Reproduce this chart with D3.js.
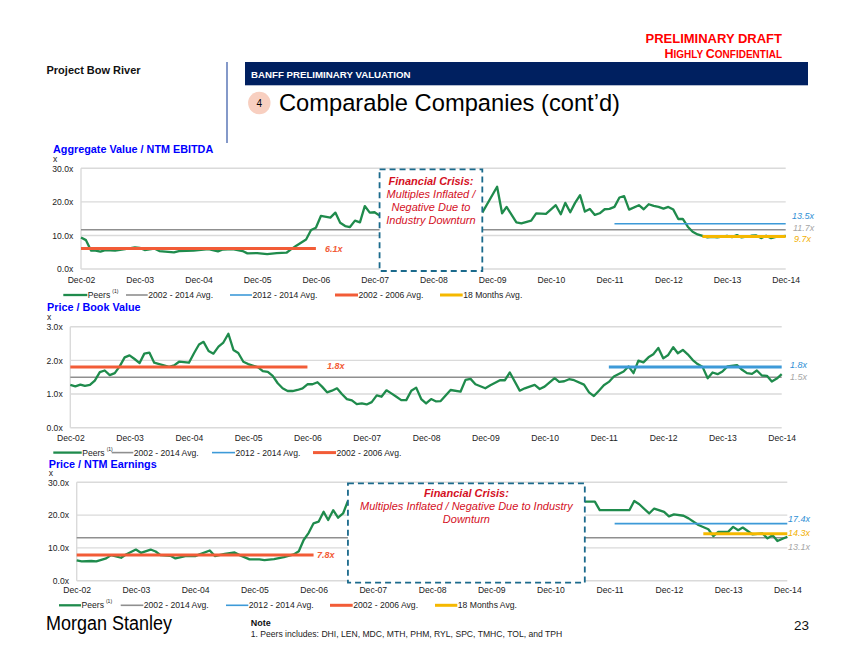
<!DOCTYPE html>
<html><head><meta charset="utf-8">
<script src="https://cdn.jsdelivr.net/npm/d3@7"></script>
<style>
body{margin:0;background:#fff;}
svg{display:block;}
</style></head>
<body><svg id="c" width="854" height="660"></svg>
<script>
// ---------------- DATA ----------------
const tickMonths = ["2002-12","2003-12","2004-12","2005-12","2006-12","2007-12","2008-12","2009-12","2010-12","2011-12","2012-12","2013-12","2014-12"];
const tickLabels = ["Dec-02","Dec-03","Dec-04","Dec-05","Dec-06","Dec-07","Dec-08","Dec-09","Dec-10","Dec-11","Dec-12","Dec-13","Dec-14"];
const yTicksMultiple = [0, 10, 20, 30];
const yTicksBook = [0, 1, 2, 3];

const avgNames  = ["2002 - 2014 Avg.", "2012 - 2014 Avg.", "2002 - 2006 Avg.", "18 Months Avg."];
const avgStarts = ["2002-12", "2012-01", "2002-12", "2013-07"];
const avgEnds   = ["2014-12", "2014-12", "2006-12", "2014-12"];

// Aggregate Value / NTM EBITDA
const evDatesA = ["2002-12","2003-01","2003-02","2003-03","2003-04","2003-05","2003-07","2003-09","2003-11","2003-12","2004-01","2004-03","2004-04","2004-07","2004-08","2004-11","2004-12","2005-02","2005-04","2005-05","2005-07","2005-09","2005-10","2005-12","2006-02","2006-04","2006-06","2006-07","2006-08","2006-10","2006-11","2006-12","2007-01","2007-03","2007-04","2007-05","2007-06","2007-07","2007-08","2007-09","2007-10","2007-11","2007-12","2008-01"];
const evValuesA = [9.4,8.6,5.5,5.5,5.2,5.65,5.5,5.95,6.45,6.3,5.65,6.1,5.35,4.95,5.35,5.5,5.65,5.9,5.25,5.8,5.9,5.35,4.65,4.75,4.45,4.75,4.85,5.9,6.95,8.8,11.6,12.3,15.8,15.3,16.8,13.8,12.8,12.5,14.4,13.9,18.75,16.8,16.9,15.9];
const evDatesB = ["2009-10","2010-01","2010-02","2010-03","2010-05","2010-06","2010-08","2010-09","2010-11","2011-01","2011-02","2011-03","2011-04","2011-05","2011-06","2011-07","2011-08","2011-09","2011-10","2011-11","2011-12","2012-01","2012-02","2012-03","2012-04","2012-06","2012-07","2012-08","2012-09","2012-10","2012-11","2012-12","2013-01","2013-02","2013-03","2013-04","2013-05","2013-06","2013-08","2013-09","2013-10","2013-12","2014-01","2014-02","2014-03","2014-05","2014-06","2014-07","2014-08","2014-09","2014-10","2014-12"];
const evValuesB = [16.8,24.5,16.6,18.5,13.9,13.6,14.4,16.6,16.4,19.0,16.3,19.7,16.9,19.7,22.0,17.1,17.9,16.1,16.6,17.8,17.9,18.5,21.3,21.7,17.7,19.0,17.8,19.3,18.8,18.5,18.0,18.5,17.7,14.9,14.9,12.6,11.1,10.3,9.4,9.6,9.4,9.9,9.5,10.1,9.4,9.9,10.0,9.2,9.9,9.2,9.6,9.9];
const evAvgValues = [11.7, 13.5, 6.1, 9.7];

// Price / Book Value
const pbDates = ["2002-12","2003-01","2003-02","2003-03","2003-04","2003-05","2003-06","2003-07","2003-08","2003-09","2003-10","2003-11","2003-12","2004-01","2004-02","2004-03","2004-04","2004-05","2004-06","2004-08","2004-09","2004-10","2004-12","2005-01","2005-02","2005-03","2005-04","2005-05","2005-06","2005-07","2005-08","2005-09","2005-10","2005-11","2005-12","2006-02","2006-03","2006-04","2006-05","2006-06","2006-07","2006-08","2006-09","2006-10","2006-11","2006-12","2007-01","2007-02","2007-03","2007-04","2007-05","2007-06","2007-07","2007-08","2007-09","2007-10","2007-11","2007-12","2008-01","2008-02","2008-03","2008-04","2008-05","2008-06","2008-07","2008-08","2008-09","2008-10","2008-11","2008-12","2009-01","2009-02","2009-03","2009-05","2009-07","2009-08","2009-09","2009-10","2009-12","2010-01","2010-03","2010-04","2010-05","2010-07","2010-08","2010-10","2010-11","2010-12","2011-02","2011-03","2011-04","2011-05","2011-06","2011-08","2011-09","2011-10","2011-11","2011-12","2012-01","2012-02","2012-04","2012-05","2012-06","2012-07","2012-08","2012-09","2012-10","2012-11","2012-12","2013-01","2013-02","2013-03","2013-04","2013-05","2013-06","2013-07","2013-08","2013-09","2013-10","2013-11","2013-12","2014-01","2014-03","2014-04","2014-05","2014-06","2014-07","2014-08","2014-09","2014-10","2014-11","2014-12"];
const pbValues = [1.27,1.23,1.28,1.24,1.27,1.40,1.65,1.70,1.56,1.62,1.82,2.09,2.15,2.04,1.92,2.20,2.23,1.93,1.89,1.81,1.85,1.96,1.93,2.21,2.47,2.55,2.28,2.20,2.41,2.53,2.79,2.31,2.22,1.96,1.89,1.79,1.68,1.66,1.54,1.32,1.17,1.09,1.09,1.12,1.17,1.29,1.29,1.35,1.22,1.05,1.10,1.17,1.00,0.85,0.81,0.70,0.72,0.69,0.76,0.96,0.92,1.11,1.02,0.92,0.82,0.82,1.10,1.19,0.85,0.72,0.85,0.78,0.79,1.12,1.07,1.42,1.45,1.29,1.17,1.26,1.41,1.41,1.64,1.10,1.17,1.27,1.15,1.22,1.47,1.36,1.38,1.44,1.41,1.28,1.05,0.94,1.10,1.26,1.36,1.52,1.67,1.82,1.62,1.99,1.94,2.09,2.18,2.37,2.06,2.16,2.39,2.21,2.31,2.18,2.01,1.89,1.80,1.47,1.64,1.59,1.67,1.82,1.86,1.72,1.62,1.60,1.70,1.55,1.54,1.37,1.46,1.59];
const pbAvgValues = [1.5, 1.8, 1.8];

// Price / NTM Earnings
const peDatesA = ["2002-12","2003-01","2003-03","2003-04","2003-06","2003-07","2003-09","2003-10","2003-12","2004-01","2004-03","2004-04","2004-05","2004-07","2004-08","2004-10","2004-12","2005-01","2005-03","2005-04","2005-06","2005-08","2005-09","2005-11","2006-01","2006-02","2006-04","2006-06","2006-08","2006-09","2006-10","2006-11","2006-12","2007-01","2007-02","2007-03","2007-04","2007-05","2007-06","2007-07"];
const peValuesA = [6.2,5.9,6.0,5.9,6.8,7.8,7.0,8.0,9.5,8.5,9.5,8.9,7.8,7.6,6.8,7.5,7.5,8.1,9.2,7.5,8.2,8.6,7.8,6.5,6.5,6.3,6.6,7.2,8.0,9.0,12.4,14.6,17.5,18.0,21.0,18.5,21.5,19.2,20.5,24.3];
const peDatesB = ["2011-07","2011-09","2011-10","2012-04","2012-05","2012-06","2012-08","2012-09","2012-11","2012-12","2013-01","2013-03","2013-04","2013-06","2013-08","2013-09","2013-10","2013-12","2014-01","2014-02","2014-03","2014-05","2014-07","2014-08","2014-09","2014-10","2014-12"];
const peValuesB = [24.1,24.1,21.5,21.5,24.3,23.3,20.5,22.0,21.0,19.6,20.2,19.8,19.0,17.0,15.7,13.6,14.9,14.9,16.4,15.4,16.2,14.1,14.4,12.9,13.9,12.1,13.4];
const peAvgValues = [13.1, 17.4, 7.8, 14.3];

const crisisNote1 = ["Financial Crisis:", "Multiples Inflated /", "Negative Due to", "Industry Downturn"];
const crisisNote3 = ["Financial Crisis:", "Multiples Inflated / Negative Due to Industry", "Downturn"];

// ---------------- STYLE ----------------
const FONT = "'Liberation Sans', Arial, Helvetica, sans-serif";
const C = {green:"#1f8b4c", gray:"#8f8f8f", blue:"#3d9ad8", orange:"#f25c37", yellow:"#f5b800", grid:"#dadada", red:"#d4101e", box:"#1b6a8c"};
const avgColors = [C.gray, C.blue, C.orange, C.yellow];
const avgLabelColors = ["#a6a6a6", "#2f8fd5", C.orange, "#f2b000"];
const parseMonth = d3.timeParse("%Y-%m");
const svg = d3.select("#c").attr("font-family", FONT);

function txt(x, y, s, o = {}) {
  const t = svg.append("text").attr("x", x).attr("y", y).text(s)
    .attr("font-size", o.size || 10).attr("fill", o.fill || "#000")
    .attr("dominant-baseline", "central");
  if (o.weight) t.attr("font-weight", o.weight);
  if (o.italic) t.attr("font-style", "italic");
  if (o.anchor) t.attr("text-anchor", o.anchor);
  return t;
}

function drawChart(c) {
  const x = d3.scaleTime().domain([parseMonth("2002-12"), parseMonth("2014-12")]).range([c.x0, c.x1]);
  const y = d3.scaleLinear().domain([0, c.max]).range([c.yBase, c.yTop]);
  const g = svg.append("g");

  g.append("g").selectAll("line").data(c.ticks).join("line")
    .attr("x1", c.x0).attr("x2", c.x1).attr("y1", d => y(d)).attr("y2", d => y(d))
    .attr("stroke", C.grid).attr("stroke-width", 1.4);
  g.append("line").attr("x1", c.x0).attr("x2", c.x0).attr("y1", y(c.max)).attr("y2", y(0))
    .attr("stroke", C.grid).attr("stroke-width", 1.4);

  const ya = g.append("g").attr("transform", `translate(${c.x0},0)`)
    .call(d3.axisLeft(y).tickValues(c.ticks).tickFormat(d => d3.format(".1f")(d) + "x").tickSize(0).tickPadding(c.x0 - c.yLabelRight));
  ya.select(".domain").remove();
  ya.attr("font-family", FONT).attr("font-size", 8.6);
  ya.selectAll("text").attr("fill", "#222");

  const xa = g.append("g").attr("transform", `translate(0,${c.yBase})`)
    .call(d3.axisBottom(x).tickValues(tickMonths.map(parseMonth)).tickFormat((d, i) => tickLabels[i]).tickSize(0).tickPadding(c.xPad));
  xa.select(".domain").remove();
  xa.attr("font-family", FONT).attr("font-size", 8.6);
  xa.selectAll("text").attr("fill", "#222");

  const line = d3.line().x(d => x(d[0])).y(d => y(d[1]));
  const avgLine = (i, w) => {
    if (c.avgs[i] == null) return;
    g.append("line").attr("x1", x(parseMonth(avgStarts[i]))).attr("x2", x(parseMonth(avgEnds[i])))
      .attr("y1", y(c.avgs[i])).attr("y2", y(c.avgs[i]))
      .attr("stroke", avgColors[i]).attr("stroke-width", w);
  };
  avgLine(0, 1.6);
  c.segments.forEach(([ds, vs]) => {
    g.append("path").datum(ds.map((d, i) => [parseMonth(d), vs[i]]))
      .attr("d", line).attr("fill", "none").attr("stroke", C.green)
      .attr("stroke-width", 2.3).attr("stroke-linejoin", "round");
  });
  avgLine(1, c.blueW);
  avgLine(2, 3);
  avgLine(3, 3);

  if (c.box) {
    const bx0 = x(parseMonth(c.box[0])), bx1 = x(parseMonth(c.box[1]));
    g.append("rect").attr("x", bx0).attr("y", y(c.max) + 1).attr("width", bx1 - bx0).attr("height", y(0) - y(c.max) + 1)
      .attr("fill", "#fff").attr("stroke", C.box).attr("stroke-width", 1.8).attr("stroke-dasharray", "6,4");
    c.note.forEach((s, i) => {
      txt((bx0 + bx1) / 2, c.noteY + i * 13, s, {size: 11, fill: C.red, italic: true, weight: i === 0 ? "bold" : null, anchor: "middle"});
    });
  }

  // value labels
  c.labels.forEach(l => {
    if (c.avgs[l.i] == null) return;
    txt(l.x, y(c.avgs[l.i]) + l.dy, d3.format(".1f")(c.avgs[l.i]) + "x",
      {size: 9, fill: avgLabelColors[l.i], italic: true, weight: l.i === 2 ? "bold" : null});
  });

  // title
  txt(c.titleX, c.titleY, c.title, {size: 10.8, weight: "bold", fill: "#0000ff"});
  txt(c.titleX, c.titleY + 9.6, "x", {size: 8.6, fill: "#222"});

  // legend
  c.legend.forEach(l => {
    const col = l.i < 0 ? C.green : avgColors[l.i];
    const w = l.i < 0 ? 2.3 : (l.i >= 2 ? 3 : 1.6);
    svg.append("line").attr("x1", l.s0).attr("x2", l.s1).attr("y1", c.legY).attr("y2", c.legY)
      .attr("stroke", col).attr("stroke-width", w);
    const t = txt(l.s1 + 0.5, c.legY, l.i < 0 ? "Peers" : avgNames[l.i], {size: 8.6, fill: "#222"});
    if (l.i < 0) t.append("tspan").attr("font-size", 5).attr("dx", 2).attr("dy", -4).text("(1)");
  });
}

// ---------------- HEADER ----------------
txt(782, 38, "PRELIMINARY DRAFT", {size: 13, weight: "bold", fill: "#ff0000", anchor: "end"});
{
  const t = svg.append("text").attr("x", 782).attr("y", 58).attr("text-anchor", "end")
    .attr("font-weight", "bold").attr("fill", "#ff0000");
  t.append("tspan").attr("font-size", 12.5).text("H");
  t.append("tspan").attr("font-size", 10).text("IGHLY ");
  t.append("tspan").attr("font-size", 12.5).text("C");
  t.append("tspan").attr("font-size", 10).text("ONFIDENTIAL");
}
txt(46.5, 69.7, "Project Bow River", {size: 11, weight: "bold", fill: "#111"});
svg.append("line").attr("x1", 227).attr("x2", 227).attr("y1", 62).attr("y2", 143).attr("stroke", "#3355a5").attr("stroke-width", 1.2);
svg.append("rect").attr("x", 245).attr("y", 62).attr("width", 563).attr("height", 23.3).attr("fill", "#002060");
txt(251, 74, "BANFF PRELIMINARY VALUATION", {size: 9.7, weight: "bold", fill: "#fff"});
svg.append("circle").attr("cx", 259.3).attr("cy", 103).attr("r", 11.2).attr("fill", "#f8cfc0");
txt(259.3, 103, "4", {size: 10, fill: "#000", anchor: "middle"});
txt(279, 103, "Comparable Companies (cont\u2019d)", {size: 23.7, fill: "#000"});

// ---------------- CHARTS ----------------
drawChart({
  x0: 81, x1: 785.7, yBase: 269, yTop: 168.3, max: 30, ticks: yTicksMultiple, yLabelRight: 73.3, xPad: 8,
  segments: [[evDatesA, evValuesA], [evDatesB, evValuesB]], avgs: evAvgValues, blueW: 1.6,
  box: ["2008-01", "2009-10"], note: crisisNote1, noteY: 180.7,
  labels: [{i: 1, x: 792, dy: -7.2}, {i: 0, x: 793, dy: -2.2}, {i: 3, x: 794, dy: 2.6}, {i: 2, x: 325, dy: 0.5}],
  title: "Aggregate Value / NTM EBITDA", titleX: 53, titleY: 149,
  legY: 295, legend: [{i: -1, s0: 63.3, s1: 87.3}, {i: 0, s0: 126, s1: 147.7}, {i: 1, s0: 230, s1: 252}, {i: 2, s0: 335, s1: 358}, {i: 3, s0: 440, s1: 462.7}]
});
drawChart({
  x0: 70.3, x1: 781.7, yBase: 427.7, yTop: 326.7, max: 3, ticks: yTicksBook, yLabelRight: 62.7, xPad: 7,
  segments: [[pbDates, pbValues]], avgs: pbAvgValues, blueW: 3,
  box: null,
  labels: [{i: 1, x: 790, dy: -2.3}, {i: 0, x: 790, dy: -0.5}, {i: 2, x: 327, dy: -1}],
  title: "Price / Book Value", titleX: 47, titleY: 307,
  legY: 452.6, legend: [{i: -1, s0: 53.3, s1: 81.7}, {i: 0, s0: 111.7, s1: 133.3}, {i: 1, s0: 212, s1: 235}, {i: 2, s0: 313, s1: 336}]
});
drawChart({
  x0: 76.7, x1: 787.3, yBase: 580.7, yTop: 482.3, max: 30, ticks: yTicksMultiple, yLabelRight: 69, xPad: 6.6,
  segments: [[peDatesA, peValuesA], [peDatesB, peValuesB]], avgs: peAvgValues, blueW: 1.6,
  box: ["2007-07", "2011-07"], note: crisisNote3, noteY: 493.3,
  labels: [{i: 1, x: 788, dy: -4.3}, {i: 3, x: 788, dy: -0.5}, {i: 0, x: 788, dy: 9.6}, {i: 2, x: 317, dy: 0}],
  title: "Price / NTM Earnings", titleX: 48.7, titleY: 463.8,
  legY: 605.3, legend: [{i: -1, s0: 59, s1: 81}, {i: 0, s0: 120.7, s1: 143.3}, {i: 1, s0: 226, s1: 248.3}, {i: 2, s0: 330, s1: 352.7}, {i: 3, s0: 435, s1: 457.3}]
});

// ---------------- FOOTER ----------------
svg.append("text").attr("x", 46).attr("y", 630).attr("font-size", 20).attr("fill", "#000")
  .attr("textLength", 126).attr("lengthAdjust", "spacingAndGlyphs").text("Morgan Stanley");
txt(250.7, 622.5, "Note", {size: 9, weight: "bold", fill: "#111"});
txt(250.7, 633.6, "1. Peers includes: DHI, LEN, MDC, MTH, PHM, RYL, SPC, TMHC, TOL, and TPH", {size: 8.6, fill: "#222"});
txt(794, 625.7, "23", {size: 13.5, fill: "#111"});
</script>
</body></html>
